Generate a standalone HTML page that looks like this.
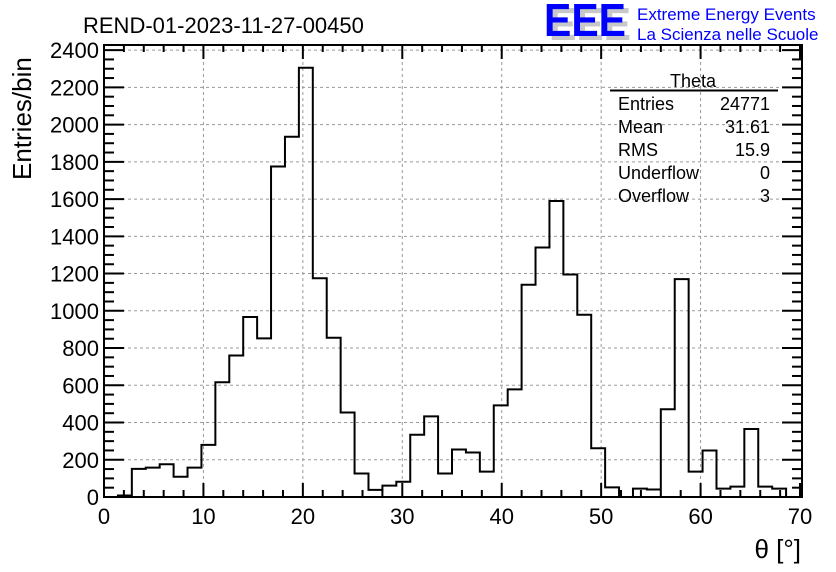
<!DOCTYPE html>
<html><head><meta charset="utf-8"><style>
html,body{margin:0;padding:0;background:#fff;}
svg{display:block;font-family:"Liberation Sans",Arial,sans-serif;}
</style></head><body>
<svg id="chart" width="836" height="572" viewBox="0 0 836 572">
<rect width="836" height="572" fill="#fff"/>
<text x="83" y="33" font-size="22" fill="#000">REND-01-2023-11-27-00450</text>
<g>
<text x="549" y="40" font-size="46" font-weight="bold" fill="#c8c8c8" textLength="82" lengthAdjust="spacingAndGlyphs">EEE</text>
<text x="544" y="36" font-size="46" font-weight="bold" fill="#0000ff" textLength="82" lengthAdjust="spacingAndGlyphs">EEE</text>
<text x="637" y="20" font-size="17" fill="#0000ff">Extreme Energy Events</text>
<text x="637" y="40" font-size="17" fill="#0000ff">La Scienza nelle Scuole</text>
</g>
<g id="grid"></g>
<g id="axes"></g>
<path id="hist" fill="none" stroke="#000" stroke-width="2"/>
<rect x="104" y="45" width="698" height="452" fill="none" stroke="#000" stroke-width="2"/>
<text x="31" y="180" font-size="26" transform="rotate(-90 31 180)" text-anchor="start">Entries/bin</text>
<text x="801" y="558" font-size="26" text-anchor="end">θ [°]</text>
<g font-size="18">
<text x="693" y="87" text-anchor="middle">Theta</text>
<line x1="610" y1="90.5" x2="778" y2="90.5" stroke="#000" stroke-width="2"/>
<text x="618" y="110">Entries</text><text x="770" y="110" text-anchor="end">24771</text>
<text x="618" y="133">Mean</text><text x="770" y="133" text-anchor="end">31.61</text>
<text x="618" y="156">RMS</text><text x="770" y="156" text-anchor="end">15.9</text>
<text x="618" y="179">Underflow</text><text x="770" y="179" text-anchor="end">0</text>
<text x="618" y="202">Overflow</text><text x="770" y="202" text-anchor="end">3</text>
</g>
</svg>
<script>
const binLow = 0;
const binWidth = 1.4;
const counts = [0,8,151,158,176,109,158,280,616,760,967,852,1775,1935,2305,1175,855,454,126,38,61,82,334,433,126,255,239,136,492,578,1140,1340,1590,1195,979,262,52,0,45,40,471,1170,136,250,45,56,365,56,45,0];
const xTicks = [0,10,20,30,40,50,60,70];
const yTicks = [0,200,400,600,800,1000,1200,1400,1600,1800,2000,2200,2400];

const X0=104, X1=802, Y0=497, Y1=45;
const xs = v => X0 + v*(X1-X0)/70.2;
const ys = v => Y0 - v*0.1862;
const NS='http://www.w3.org/2000/svg';
const grid=document.getElementById('grid'), axes=document.getElementById('axes');
function mk(tag,attrs,parent){const e=document.createElementNS(NS,tag);for(const k in attrs)e.setAttribute(k,attrs[k]);parent.appendChild(e);return e;}

xTicks.forEach(t=>{
  const x=xs(t);
  if(t>0&&t<70){const g=mk('line',{x1:x,y1:Y0,x2:x,y2:Y1,stroke:'#999','stroke-dasharray':'3,3','stroke-width':1},grid);
  
  }
  mk('line',{x1:x,y1:Y0,x2:x,y2:Y0-14,stroke:'#000','stroke-width':2},axes);
  mk('line',{x1:x,y1:Y1,x2:x,y2:Y1+14,stroke:'#000','stroke-width':2},axes);
  const lb=mk('text',{x:x,y:Y0+27,'font-size':22,'text-anchor':'middle'},axes);
  lb.textContent=t;
  
  
});
for(let m=0;m<=70;m+=2){if(m%10){const x=xs(m);
  mk('line',{x1:x,y1:Y0,x2:x,y2:Y0-7,stroke:'#000','stroke-width':2},axes);
  mk('line',{x1:x,y1:Y1,x2:x,y2:Y1+7,stroke:'#000','stroke-width':2},axes);}}
yTicks.forEach(t=>{
  const y=ys(t);
  if(t>0){const g=mk('line',{x1:X0,y1:y,x2:X1,y2:y,stroke:'#999','stroke-dasharray':'3,3','stroke-width':1},grid);
  
  }
  mk('line',{x1:X0,y1:y,x2:X0+20,y2:y,stroke:'#000','stroke-width':2},axes);
  mk('line',{x1:X1,y1:y,x2:X1-20,y2:y,stroke:'#000','stroke-width':2},axes);
  const lb=mk('text',{x:X0-5,y:y+8,'font-size':22,'text-anchor':'end'},axes);
  lb.textContent=t;
  
  
});
for(let m=50;m<2400;m+=50){if(m%200){const y=ys(m);
  mk('line',{x1:X0,y1:y,x2:X0+10,y2:y,stroke:'#000','stroke-width':2},axes);
  mk('line',{x1:X1,y1:y,x2:X1-10,y2:y,stroke:'#000','stroke-width':2},axes);}}

let d='M'+xs(binLow)+','+ys(0);
counts.forEach((c,i)=>{
  const a=xs(binLow+i*binWidth), b=xs(binLow+(i+1)*binWidth);
  d+=' L'+a+','+ys(c)+' L'+b+','+ys(c);
});
d+=' L'+xs(binLow+counts.length*binWidth)+','+ys(0);
document.getElementById('hist').setAttribute('d',d);
</script>
</body></html>
